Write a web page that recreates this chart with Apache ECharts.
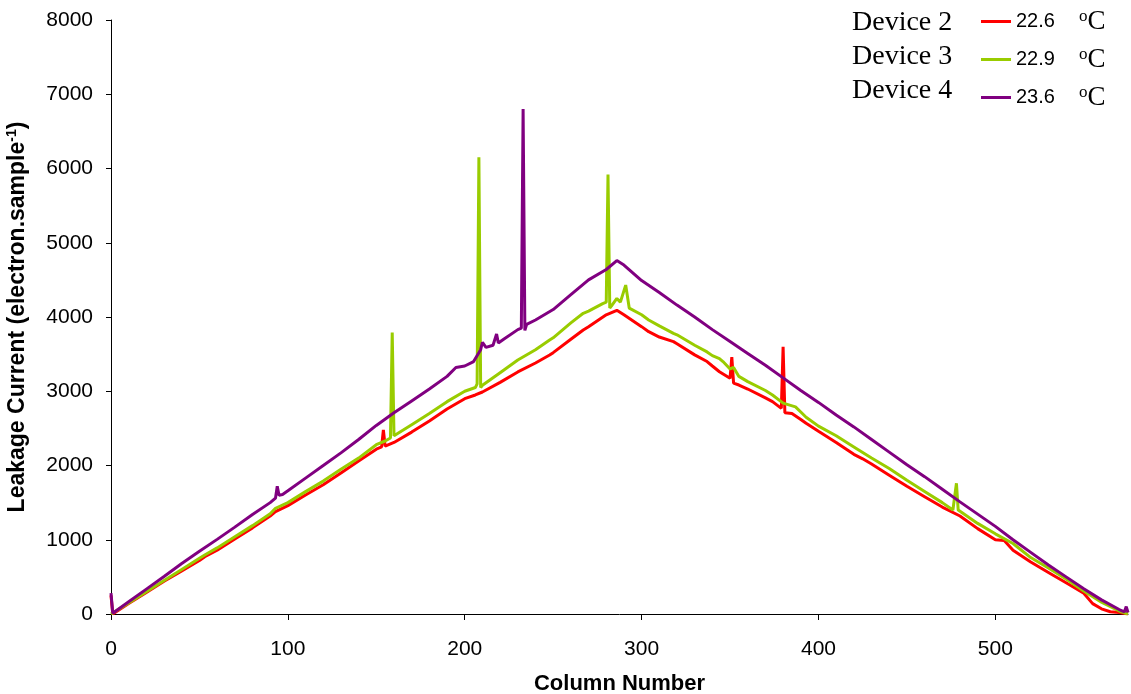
<!DOCTYPE html>
<html>
<head>
<meta charset="utf-8">
<script src="https://cdn.jsdelivr.net/npm/echarts@6/dist/echarts.min.js"></script>
<style>
    html, body { margin: 0; padding: 0; background: #fff; }
    #chart { width: 1131px; height: 694px; }
</style>
</head>
<body>
<div id="chart"></div>
<script>
    // column positions and leakage values
    var dev2Cols = [0, 1, 10, 20, 30, 40, 50, 53, 60, 70, 80, 90, 93, 100, 110, 120, 130, 140, 150, 153, 154, 155, 156, 160, 170, 180, 190, 200, 206, 210, 220, 230, 240, 248, 250, 260, 267, 270, 280, 286, 290, 300, 304, 310, 318, 320, 330, 337, 340, 344, 350, 351, 352, 355, 360, 370, 374, 379, 380, 381, 385, 390, 393, 400, 410, 420, 425, 430, 440, 450, 460, 470, 480, 490, 500, 505, 510, 520, 530, 540, 550, 555, 560, 565, 570, 575];
    var dev2Vals = [250, 0, 140, 290, 440, 580, 720, 772, 860, 1010, 1160, 1320, 1378, 1460, 1603, 1740, 1900, 2060, 2220, 2250, 2480, 2260, 2270, 2310, 2450, 2600, 2760, 2900, 2950, 2990, 3120, 3260, 3380, 3488, 3520, 3700, 3825, 3870, 4030, 4090, 4030, 3870, 3802, 3730, 3668, 3640, 3490, 3400, 3340, 3263, 3174, 3460, 3110, 3084, 3030, 2910, 2860, 2770, 3600, 2710, 2700, 2620, 2568, 2460, 2310, 2150, 2090, 2020, 1870, 1720, 1580, 1440, 1320, 1150, 1000, 990, 860, 700, 560, 420, 280, 140, 70, 30, 20, 0];

    var dev3Cols = [0, 10, 20, 30, 40, 50, 53, 60, 70, 80, 90, 93, 100, 110, 120, 130, 140, 150, 155, 158, 159, 160, 161, 170, 180, 190, 200, 206, 207, 208, 209, 210, 220, 230, 240, 248, 250, 260, 267, 270, 278, 280, 281, 282, 283, 286, 288, 291, 293, 300, 304, 310, 318, 320, 330, 337, 340, 344, 346, 350, 352, 355, 360, 370, 374, 380, 387, 390, 393, 400, 410, 420, 430, 440, 450, 460, 470, 476, 477, 478, 479, 480, 490, 500, 510, 520, 530, 540, 550, 560, 570, 575];
    var dev3Vals = [0, 150, 300, 450, 600, 750, 795, 890, 1040, 1190, 1350, 1424, 1500, 1648, 1790, 1950, 2100, 2280, 2330, 2370, 3790, 2400, 2390, 2550, 2700, 2860, 3000, 3050, 3100, 6150, 3050, 3080, 3250, 3420, 3560, 3690, 3720, 3920, 4050, 4080, 4180, 4200, 5920, 4120, 4150, 4250, 4200, 4430, 4120, 4030, 3960, 3880, 3780, 3760, 3620, 3530, 3480, 3440, 3400, 3300, 3320, 3200, 3130, 3010, 2950, 2840, 2790, 2720, 2650, 2530, 2400, 2250, 2100, 1960, 1800, 1650, 1500, 1400, 1400, 1760, 1400, 1380, 1220, 1080, 950, 760, 620, 470, 310, 160, 40, 0];

    var dev4Cols = [0, 1, 10, 20, 30, 40, 50, 60, 70, 80, 90, 93, 94, 95, 97, 100, 110, 120, 130, 140, 150, 160, 170, 180, 190, 195, 200, 205, 209, 210, 212, 216, 218, 219, 222, 230, 232, 233, 234, 235, 240, 250, 260, 270, 280, 286, 290, 300, 310, 320, 330, 340, 350, 360, 370, 380, 390, 400, 410, 420, 430, 440, 450, 460, 470, 480, 490, 500, 510, 520, 530, 540, 550, 560, 570, 573, 574, 575];
    var dev4Vals = [280, 10, 165, 335, 505, 680, 845, 1005, 1170, 1340, 1500, 1560, 1720, 1600, 1610, 1660, 1830, 2000, 2170, 2350, 2540, 2710, 2870, 3030, 3200, 3320, 3340, 3400, 3560, 3660, 3590, 3620, 3770, 3650, 3700, 3830, 3850, 6800, 3820, 3900, 3960, 4100, 4300, 4500, 4640, 4760, 4700, 4490, 4330, 4160, 4000, 3830, 3670, 3510, 3350, 3180, 3010, 2850, 2680, 2520, 2350, 2180, 2010, 1850, 1680, 1510, 1345, 1180, 1000, 830, 660, 500, 340, 190, 60, 30, 100, 20];

    var deviceNames = ['Device 2', 'Device 3', 'Device 4'];
    var temps = ['22.6', '22.9', '23.6'];
    var colors = ['#ff0000', '#99cc00', '#800080'];
    var xTicks = [0, 100, 200, 300, 400, 500];

    function pairs(cols, vals) {
        var out = [];
        for (var i = 0; i < cols.length; i++) {
            out.push([cols[i], vals[i]]);
        }
        return out;
    }

    var allCols = [dev2Cols, dev3Cols, dev4Cols];
    var allVals = [dev2Vals, dev3Vals, dev4Vals];

    var series = [];
    for (var s = 0; s < 3; s++) {
        series.push({
            name: deviceNames[s],
            type: 'line',
            symbol: 'none',
            animation: false,
            color: colors[s],
            lineStyle: { width: 3, color: colors[s] },
            data: pairs(allCols[s], allVals[s])
        });
    }

    var chart = echarts.init(document.getElementById('chart'));
    chart.setOption({
        backgroundColor: '#fff',
        animation: false,
        grid: { left: 111, right: 3, top: 20, bottom: 80, outerBoundsMode: 'none' },
        legend: {
            orient: 'vertical',
            left: 976,
            top: 3,
            icon: 'rect',
            itemWidth: 30,
            itemHeight: 3,
            itemGap: 11,
            data: deviceNames,
            formatter: function (name) {
                var t = temps[deviceNames.indexOf(name)];
                return '{n|' + t + '}{o|o}{c|C}';
            },
            textStyle: {
                rich: {
                    n: { fontFamily: 'Liberation Sans', fontSize: 20, color: '#000', lineHeight: 30 },
                    o: { fontFamily: 'Liberation Serif', fontSize: 17, color: '#000', padding: [0, 0, 10, 24], lineHeight: 30 },
                    c: { fontFamily: 'Liberation Serif', fontSize: 27, color: '#000', lineHeight: 30 }
                }
            }
        },
        graphic: [
            { type: 'text', left: 852, top: 9, style: { text: deviceNames[0], font: '28px "Liberation Serif"', fill: '#000' } },
            { type: 'text', left: 852, top: 43, style: { text: deviceNames[1], font: '28px "Liberation Serif"', fill: '#000' } },
            { type: 'text', left: 852, top: 77, style: { text: deviceNames[2], font: '28px "Liberation Serif"', fill: '#000' } }
        ],
        xAxis: {
            type: 'value',
            min: 0,
            max: 575,
            name: 'Column Number',
            nameLocation: 'middle',
            nameGap: 59,
            nameTextStyle: { fontFamily: 'Liberation Sans', fontWeight: 'bold', fontSize: 22, color: '#000' },
            axisLine: { lineStyle: { color: '#000', width: 1 } },
            axisTick: { length: 6, customValues: xTicks, lineStyle: { color: '#000' } },
            axisLabel: { customValues: xTicks, margin: 25, fontFamily: 'Liberation Sans', fontSize: 21, color: '#000' },
            splitLine: { show: false }
        },
        yAxis: {
            type: 'value',
            min: 0,
            max: 8000,
            interval: 1000,
            name: 'Leakage Current (electron.sample{sup|-1})',
            nameLocation: 'middle',
            nameGap: 80,
            nameTextStyle: {
                fontFamily: 'Liberation Sans', fontWeight: 'bold', fontSize: 23, color: '#000',
                rich: {
                    sup: { fontFamily: 'Liberation Sans', fontWeight: 'bold', fontSize: 14, color: '#000', padding: [0, 0, 12, 0] }
                }
            },
            axisLine: { show: true, lineStyle: { color: '#000', width: 1 } },
            axisTick: { show: true, length: 5, lineStyle: { color: '#000' } },
            axisLabel: {
                margin: 18, fontFamily: 'Liberation Sans', fontSize: 21, color: '#000',
                formatter: function (v) { return String(v); }
            },
            splitLine: { show: false }
        },
        series: series
    });
</script>
</body>
</html>
